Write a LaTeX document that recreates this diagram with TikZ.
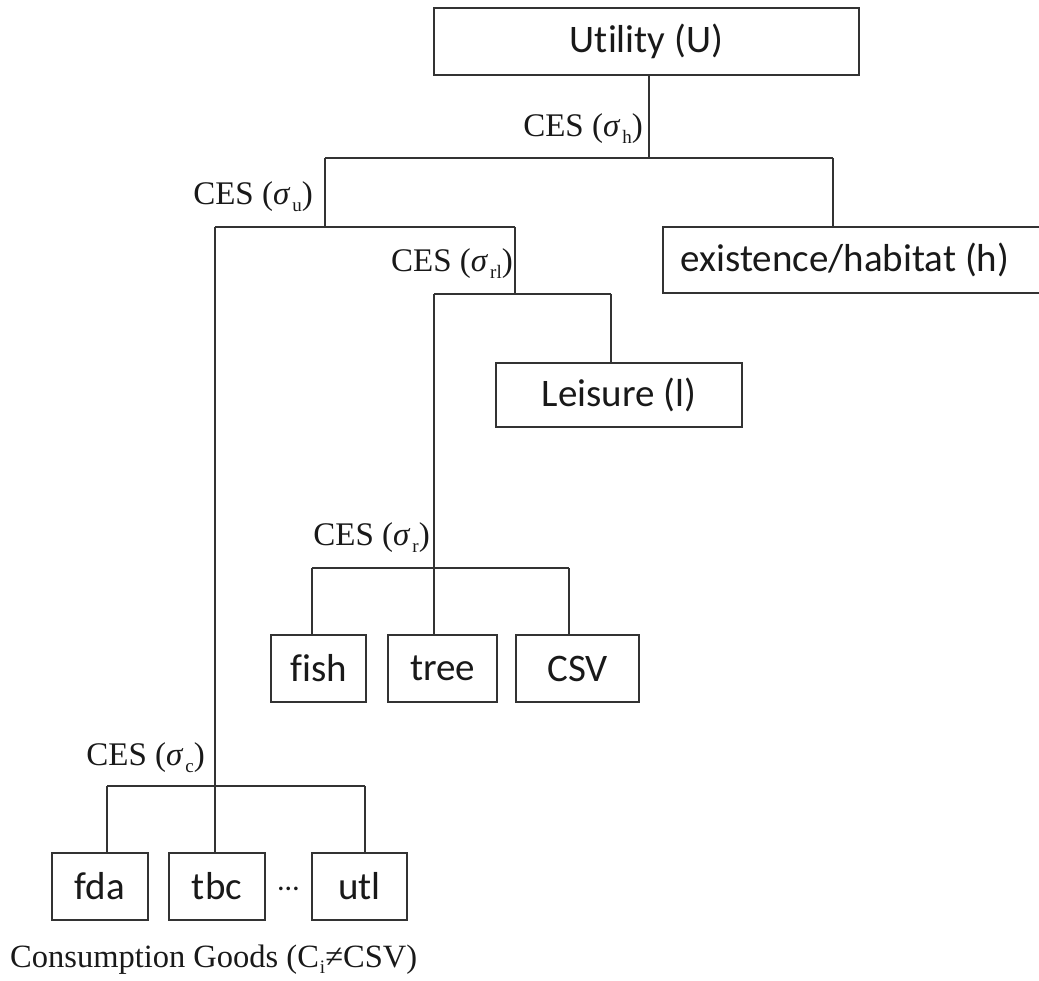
\documentclass[tikz,border=0pt]{standalone}
\usepackage{fontspec}
\setmainfont{Liberation Serif}
\newfontfamily\boxfont[Ligatures={CommonOff,ContextualOff}]{Carlito}
\tikzset{
  ln/.style={line width=1.5pt, draw=black!80},
  bx/.style={draw=black!80, line width=1.5pt, inner sep=0pt, font=\boxfont\fontsize{39}{41}\selectfont, text=black!90},
  ces/.style={inner sep=0pt, anchor=base east, font=\fontsize{33}{35}\selectfont, text=black!90},
}
\newcommand{\sig}[1]{{\itshape σ}\kern3pt\raisebox{-7pt}{\fontsize{19}{19}\selectfont #1}}
\begin{document}
\begin{tikzpicture}[x=1pt,y=-1pt]
\useasboundingbox (0,0) rectangle (1039,981);
\clip (0,0) rectangle (1039,981);
% boxes
\node[bx, minimum width=425pt, minimum height=67pt] (U) at (646.5,41.5) {Utility (U)};
\node[bx, anchor=west, minimum height=66pt, inner xsep=18pt] (H) at (662,260) {\makebox[370pt][l]{existence/habitat (h)}};
\node[bx, minimum width=246pt, minimum height=64pt] (L) at (619,395) {Leisure (l)};
\node[bx, minimum width=95pt, minimum height=67pt] (fish) at (318.5,668.5) {fish};
\node[bx, minimum width=109pt, minimum height=67pt] (tree) at (442.5,668.5) {tree};
\node[bx, minimum width=123pt, minimum height=67pt] (csv) at (577.5,668.5) {CSV};
\node[bx, minimum width=96pt, minimum height=67pt] (fda) at (100,886.5) {fda};
\node[bx, minimum width=96pt, minimum height=67pt] (tbc) at (217,886.5) {tbc};
\node[bx, minimum width=95pt, minimum height=67pt] (utl) at (359.5,886.5) {utl};
\node[inner sep=0pt, anchor=base, font=\boxfont\fontsize{30}{30}\selectfont, text=black!90] (dots) at (288.5,890) {…};
% junction coordinates
\coordinate (jh) at (649,158);
\coordinate (jhl) at (325,158);
\coordinate (jhr) at (833,158);
\coordinate (ju) at (325,227);
\coordinate (jul) at (215,227);
\coordinate (jur) at (515,227);
\coordinate (jrl) at (515,294);
\coordinate (jrll) at (434,294);
\coordinate (jrlr) at (611,294);
\coordinate (jr) at (434,568);
\coordinate (jrl2) at (312,568);
\coordinate (jrr) at (569,568);
\coordinate (jc) at (215,786);
\coordinate (jcl) at (107,786);
\coordinate (jcr) at (365,786);
% connectors
\draw[ln] (U.south -| jh) -- (jh);
\draw[ln] (jhl) -- (jhr);
\draw[ln] (jhr) -- (H.north -| jhr);
\draw[ln] (jhl) -- (ju);
\draw[ln] (jul) -- (jur);
\draw[ln] (jur) -- (jrl);
\draw[ln] (jrll) -- (jrlr);
\draw[ln] (jrlr) -- (L.north -| jrlr);
\draw[ln] (jrll) -- (tree.north -| jrll);
\draw[ln] (jrl2) -- (jrr);
\draw[ln] (jrl2) -- (fish.north -| jrl2);
\draw[ln] (jrr) -- (csv.north -| jrr);
\draw[ln] (jul) -- (tbc.north -| jul);
\draw[ln] (jcl) -- (jcr);
\draw[ln] (jcl) -- (fda.north -| jcl);
\draw[ln] (jcr) -- (utl.north -| jcr);
% CES labels
\node[ces] (lh) at (643,137) {CES (\sig{h})};
\node[ces] (lu) at (313,205) {CES (\sig{u})};
\node[ces] (lrl) at (513,272) {CES (\sig{rl})};
\node[ces] (lr) at (430,545) {CES (\sig{r})};
\node[ces] (lc) at (205,765) {CES (\sig{c})};
\node[inner sep=0pt, anchor=base west, font=\fontsize{32.5}{34}\selectfont, text=black!90] (cg) at (10,967) {Consumption Goods (C\kern1pt\raisebox{-6pt}{\fontsize{19}{19}\selectfont i}≠CSV)};
\end{tikzpicture}
\end{document}
